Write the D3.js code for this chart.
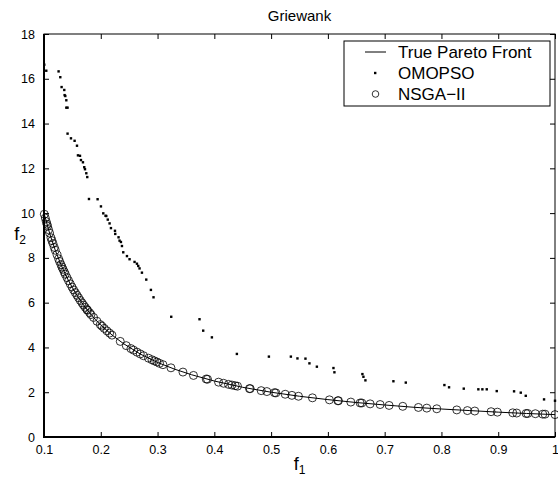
<!DOCTYPE html>
<html>
<head>
<meta charset="utf-8">
<script src="https://cdn.jsdelivr.net/npm/d3@7"></script>
<style>
  body { margin: 0; background: #fff; }
  text { font-family: "Liberation Sans", Arial, Helvetica, sans-serif; fill: #000; }
</style>
</head>
<body>
<div id="chart"></div>
<script>
// true Pareto front
var frontF1 = [0.1, 0.11, 0.12, 0.13, 0.14, 0.15, 0.16, 0.17, 0.18, 0.19, 0.2, 0.22, 0.24, 0.27, 0.3, 0.33, 0.36, 0.4, 0.45, 0.5, 0.55, 0.6, 0.65, 0.7, 0.75, 0.8, 0.85, 0.9, 0.95, 1.0];
var frontF2 = [10.0, 9.09, 8.33, 7.69, 7.14, 6.67, 6.25, 5.88, 5.56, 5.26, 5.0, 4.55, 4.17, 3.70, 3.33, 3.03, 2.78, 2.5, 2.22, 2.0, 1.82, 1.67, 1.54, 1.43, 1.33, 1.25, 1.18, 1.11, 1.05, 1.0];

var omopsoF1 = [0.1005, 0.104, 0.1257, 0.1287, 0.131, 0.1357, 0.1363, 0.1375, 0.1393, 0.1393, 0.1415, 0.1415, 0.1475, 0.1539, 0.1581, 0.1598, 0.1634, 0.1651, 0.1686, 0.1709, 0.1722, 0.1745, 0.1762, 0.1792, 0.1944, 0.2003, 0.2044, 0.2084, 0.2097, 0.2123, 0.2155, 0.2179, 0.225, 0.2255, 0.2313, 0.2331, 0.2355, 0.2373, 0.2396, 0.2461, 0.2507, 0.2595, 0.2637, 0.266, 0.2683, 0.2725, 0.2801, 0.2883, 0.2929, 0.3241, 0.3739, 0.3804, 0.3957, 0.4397, 0.4961, 0.5348, 0.5464, 0.5605, 0.5675, 0.5806, 0.6098, 0.6115, 0.6608, 0.6626, 0.6661, 0.7154, 0.7372, 0.8052, 0.8134, 0.8393, 0.865, 0.8721, 0.8798, 0.8974, 0.9279, 0.9397, 0.9485, 0.9807, 1.0];
var omopsoF2 = [16.63, 16.36, 16.33, 16.07, 15.63, 15.5, 15.27, 15.23, 15.04, 14.71, 14.71, 13.55, 13.34, 13.23, 13.01, 12.58, 12.56, 12.37, 12.27, 12.05, 11.96, 11.78, 11.61, 10.63, 10.62, 10.3, 9.99, 9.88, 9.87, 9.71, 9.54, 9.33, 9.21, 9.07, 8.92, 8.77, 8.71, 8.53, 8.25, 8.08, 7.94, 7.82, 7.74, 7.64, 7.53, 7.34, 7.03, 6.57, 6.24, 5.37, 5.26, 4.75, 4.45, 3.71, 3.59, 3.59, 3.51, 3.5, 3.29, 3.14, 3.08, 2.89, 2.81, 2.69, 2.53, 2.49, 2.43, 2.32, 2.22, 2.16, 2.13, 2.13, 2.13, 2.05, 2.04, 1.98, 1.84, 1.68, 1.62];

var nsgaF1 = [0.1005, 0.1023, 0.104, 0.1053, 0.1063, 0.108, 0.1098, 0.1123, 0.114, 0.1158, 0.1181, 0.1199, 0.1229, 0.1257, 0.1275, 0.1299, 0.1317, 0.1335, 0.1357, 0.1375, 0.1405, 0.1433, 0.1463, 0.1493, 0.1521, 0.1551, 0.1581, 0.1609, 0.1639, 0.167, 0.1697, 0.1727, 0.1757, 0.1767, 0.1803, 0.1827, 0.1873, 0.1933, 0.1991, 0.2021, 0.2061, 0.2109, 0.2155, 0.2197, 0.2343, 0.2449, 0.2531, 0.2577, 0.2637, 0.2695, 0.2753, 0.2841, 0.2901, 0.2942, 0.2989, 0.3035, 0.3095, 0.3236, 0.3447, 0.3633, 0.3857, 0.388, 0.4074, 0.4162, 0.425, 0.431, 0.4367, 0.4408, 0.4619, 0.4632, 0.4825, 0.4925, 0.5059, 0.5084, 0.5248, 0.5366, 0.5482, 0.5728, 0.6027, 0.6175, 0.6186, 0.6404, 0.6568, 0.6598, 0.6744, 0.692, 0.7078, 0.7319, 0.7594, 0.7742, 0.7918, 0.827, 0.8457, 0.8587, 0.8874, 0.8985, 0.9256, 0.9326, 0.949, 0.952, 0.9654, 0.9784, 0.9825, 1.0];
var nsgaF2 = [9.95, 9.78, 9.62, 9.5, 9.41, 9.26, 9.11, 8.9, 8.77, 8.64, 8.47, 8.34, 8.14, 7.96, 7.84, 7.7, 7.59, 7.49, 7.37, 7.27, 7.12, 6.98, 6.84, 6.7, 6.57, 6.45, 6.33, 6.22, 6.1, 5.99, 5.89, 5.79, 5.69, 5.66, 5.55, 5.47, 5.34, 5.17, 5.02, 4.95, 4.85, 4.74, 4.64, 4.55, 4.27, 4.08, 3.95, 3.88, 3.79, 3.71, 3.63, 3.52, 3.45, 3.4, 3.35, 3.29, 3.23, 3.09, 2.9, 2.75, 2.59, 2.58, 2.45, 2.4, 2.35, 2.32, 2.29, 2.27, 2.16, 2.16, 2.07, 2.03, 1.98, 1.97, 1.91, 1.86, 1.82, 1.75, 1.66, 1.62, 1.62, 1.56, 1.52, 1.52, 1.48, 1.45, 1.41, 1.37, 1.32, 1.29, 1.26, 1.21, 1.18, 1.16, 1.13, 1.11, 1.08, 1.07, 1.05, 1.05, 1.04, 1.02, 1.02, 1.0];

var xTicks = [0.1, 0.2, 0.3, 0.4, 0.5, 0.6, 0.7, 0.8, 0.9, 1];
var yTicks = [0, 2, 4, 6, 8, 10, 12, 14, 16, 18];
var legendNames = ["True Pareto Front", "OMOPSO", "NSGA\u2212II"];

var width = 558, height = 479;
var m = { top: 34, right: 3, bottom: 42, left: 44 };
var pw = width - m.left - m.right;
var ph = height - m.top - m.bottom;

var svg = d3.select("#chart").append("svg")
  .attr("width", width)
  .attr("height", height);

var x = d3.scaleLinear().domain([0.1, 1]).range([m.left, m.left + pw]);
var y = d3.scaleLinear().domain([0, 18]).range([m.top + ph, m.top]);

// axes, MATLAB style: ticks inside, on all four sides
var tick = 5;
svg.append("g")
  .attr("transform", `translate(0,${m.top + ph})`)
  .call(d3.axisBottom(x).tickValues(xTicks).tickSizeInner(-tick).tickSizeOuter(0).tickPadding(8)
    .tickFormat(function(d) { return d === 1 ? "1" : d3.format(".1f")(d); }));
svg.append("g")
  .attr("transform", `translate(0,${m.top})`)
  .call(d3.axisTop(x).tickValues(xTicks).tickSizeInner(-tick).tickSizeOuter(0).tickFormat(""));
svg.append("g")
  .attr("transform", `translate(${m.left},0)`)
  .call(d3.axisLeft(y).tickValues(yTicks).tickSizeInner(-tick).tickSizeOuter(0).tickPadding(9));
svg.append("g")
  .attr("transform", `translate(${m.left + pw},0)`)
  .call(d3.axisRight(y).tickValues(yTicks).tickSizeInner(-tick).tickSizeOuter(0).tickFormat(""));

svg.selectAll(".domain").remove();
svg.selectAll(".tick line").attr("stroke", "#000");
svg.selectAll(".tick text").style("font-size", "12.5px").attr("fill", "#000");

svg.append("rect")
  .attr("x", m.left).attr("y", m.top)
  .attr("width", pw).attr("height", ph)
  .attr("fill", "none").attr("stroke", "#000").attr("stroke-width", 1);
svg.append("path")
  .attr("d", `M${m.left},${m.top}V${m.top + ph}H${m.left + pw}`)
  .attr("fill", "none").attr("stroke", "#000").attr("stroke-width", 2);

// true front
var line = d3.line()
  .x(function(d) { return x(d[0]); })
  .y(function(d) { return y(d[1]); });
svg.append("path")
  .datum(d3.zip(frontF1, frontF2))
  .attr("d", line)
  .attr("fill", "none").attr("stroke", "#000").attr("stroke-width", 1);

// OMOPSO
svg.append("g").selectAll("rect")
  .data(d3.zip(omopsoF1, omopsoF2))
  .join("rect")
  .attr("x", function(d) { return x(d[0]) - 1.2; })
  .attr("y", function(d) { return y(d[1]) - 1.2; })
  .attr("width", 2.4).attr("height", 2.4)
  .attr("fill", "#000");

// NSGA-II
svg.append("g").selectAll("circle")
  .data(d3.zip(nsgaF1, nsgaF2))
  .join("circle")
  .attr("cx", function(d) { return x(d[0]); })
  .attr("cy", function(d) { return y(d[1]); })
  .attr("r", 4)
  .attr("fill", "none").attr("stroke", "#000").attr("stroke-width", 0.8);

// title and labels
svg.append("text")
  .attr("x", m.left + pw / 2).attr("y", 21)
  .attr("text-anchor", "middle")
  .style("font-size", "15px")
  .text("Griewank");

var xl = svg.append("text")
  .attr("x", m.left + pw / 2).attr("y", 470)
  .attr("text-anchor", "middle")
  .style("font-size", "18px");
xl.append("tspan").text("f");
xl.append("tspan").attr("dy", 4).style("font-size", "12px").text("1");

var yl = svg.append("text")
  .attr("x", 20).attr("y", 240)
  .attr("text-anchor", "middle")
  .style("font-size", "18px");
yl.append("tspan").text("f");
yl.append("tspan").attr("dy", 4).style("font-size", "12px").text("2");

// legend
var lg = svg.append("g");
lg.append("rect")
  .attr("x", 344).attr("y", 41).attr("width", 206).attr("height", 65)
  .attr("fill", "#fff").attr("stroke", "#000").attr("stroke-width", 1);
var rowY = [52, 73, 94];
lg.append("line")
  .attr("x1", 365).attr("x2", 386).attr("y1", rowY[0]).attr("y2", rowY[0])
  .attr("stroke", "#000");
lg.append("rect")
  .attr("x", 374).attr("y", rowY[1] - 1.2).attr("width", 2.4).attr("height", 2.4)
  .attr("fill", "#000");
lg.append("circle")
  .attr("cx", 375.5).attr("cy", rowY[2]).attr("r", 3.3)
  .attr("fill", "none").attr("stroke", "#000").attr("stroke-width", 0.8);
lg.selectAll("text.lab")
  .data(legendNames)
  .join("text")
  .attr("class", "lab")
  .attr("x", 398)
  .attr("y", function(d, i) { return rowY[i] + 6; })
  .style("font-size", "17px")
  .text(function(d) { return d; });
</script>
</body>
</html>
